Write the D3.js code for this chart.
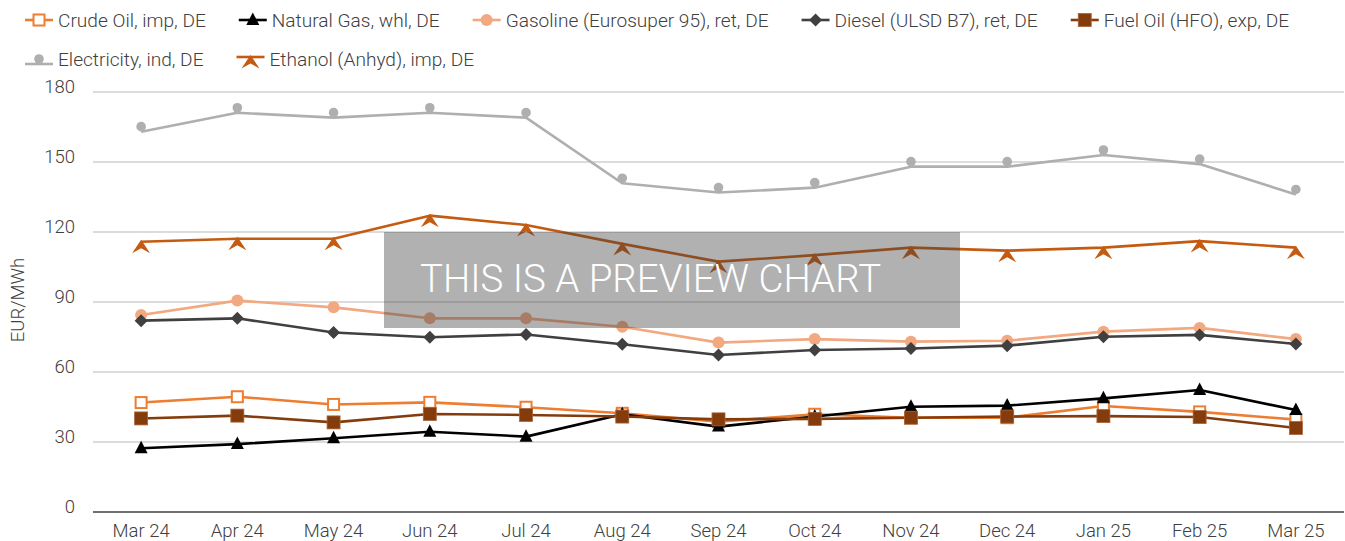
<!DOCTYPE html>
<html><head><meta charset="utf-8">
<script src="https://cdn.jsdelivr.net/npm/d3@7/dist/d3.min.js"></script>
<style>
html,body{margin:0;padding:0;background:#fff;}
text{font-family:Roboto,"Noto Sans",sans-serif;}
</style></head>
<body><svg id="c" width="1345" height="541"></svg>
<script>
const months = ["Mar 24","Apr 24","May 24","Jun 24","Jul 24","Aug 24","Sep 24","Oct 24","Nov 24","Dec 24","Jan 25","Feb 25","Mar 25"];
const yTicks = [0,30,60,90,120,150,180];
const seriesNames = ["Crude Oil, imp, DE","Natural Gas, whl, DE","Gasoline (Eurosuper 95), ret, DE","Diesel (ULSD B7), ret, DE","Fuel Oil (HFO), exp, DE","Electricity, ind, DE","Ethanol (Anhyd), imp, DE"];
const crudeOil   = [46.9,49.4,46.1,47.0,44.9,42.3,38.7,41.9,40.4,40.4,45.4,42.9,39.6];
const naturalGas = [27.3,29.1,31.6,34.4,32.3,41.9,36.6,40.9,45.1,45.6,48.7,52.3,43.7];
const gasoline   = [84.4,90.6,87.7,83.0,83.0,79.4,72.6,74.1,73.0,73.4,77.3,78.9,74.1];
const diesel     = [82.0,83.0,76.9,74.9,76.1,71.9,67.3,69.4,70.1,71.3,75.1,75.9,72.0];
const fuelOil    = [40.1,41.3,38.4,42.0,41.6,40.9,39.7,39.9,40.4,40.9,41.1,40.7,36.0];
const electricity= [163.0,171.1,169.0,171.1,169.0,140.9,136.9,139.0,148.0,148.0,153.0,149.1,136.1];
const ethanol    = [115.8,117.1,117.1,127.0,123.0,114.9,107.3,110.1,113.3,112.0,113.3,116.1,113.3];
const yTitle = "EUR/MWh";
const watermark = "THIS IS A PREVIEW CHART";

const seriesValues = [crudeOil,naturalGas,gasoline,diesel,fuelOil,electricity,ethanol];
const styles = [
  {color:"#ED7D31", marker:"hsquare"},
  {color:"#000000", marker:"triangle"},
  {color:"#F2A880", marker:"circle"},
  {color:"#404040", marker:"diamond"},
  {color:"#843C0C", marker:"square"},
  {color:"#AFAFAF", marker:"dot"},
  {color:"#C55A11", marker:"arrow"}
];
const series = seriesNames.map((n,i)=>({name:n, values:seriesValues[i], ...styles[i]}));

const svg = d3.select("#c");
const plotL=93, plotR=1344, plotT=92, plotB=512;
const x = d3.scalePoint().domain(months).range([plotL,plotR]).padding(0.5);
const y = d3.scaleLinear().domain([0,180]).range([plotB,plotT]);
const txtColor = "#404040";

// gridlines
svg.append("g").selectAll("line").data(yTicks.filter(t=>t>0)).join("line")
  .attr("x1",plotL).attr("x2",plotR).attr("y1",d=>y(d)).attr("y2",d=>y(d))
  .attr("stroke","#D0D0D0").attr("stroke-width",1.5);
// axis line
svg.append("line").attr("x1",plotL).attr("x2",plotR).attr("y1",y(0)).attr("y2",y(0))
  .attr("stroke","#404040").attr("stroke-width",1.5);

// y labels
svg.append("g").selectAll("text").data(yTicks).join("text")
  .attr("x",75).attr("y",d=>y(d)+0.5).attr("text-anchor","end")
  .attr("font-size",18.5).attr("font-weight",300).attr("fill",txtColor).text(d=>d);
// x labels
svg.append("g").selectAll("text").data(months).join("text")
  .attr("x",d=>x(d)).attr("y",537).attr("text-anchor","middle")
  .attr("font-size",18.5).attr("font-weight",300).attr("fill",txtColor).text(d=>d);
// y title
svg.append("text").attr("transform","translate(24,300) rotate(-90)")
  .attr("text-anchor","middle").attr("font-size",18.5).attr("font-weight",300)
  .attr("fill",txtColor).text(yTitle);

function drawMarker(g, type, color){
  if(type==="hsquare"){
    g.append("rect").attr("x",-5.5).attr("y",-5.5).attr("width",11).attr("height",11)
     .attr("fill","#fff").attr("stroke",color).attr("stroke-width",2);
  } else if(type==="square"){
    g.append("rect").attr("x",-6.5).attr("y",-6.5).attr("width",13).attr("height",13)
     .attr("fill",color).attr("stroke","#A8643C").attr("stroke-width",0.8);
  } else if(type==="triangle"){
    g.append("path").attr("d","M0,-7.5L6.5,5L-6.5,5Z").attr("fill",color);
  } else if(type==="circle"){
    g.append("circle").attr("r",6).attr("fill",color);
  } else if(type==="diamond"){
    g.append("path").attr("d","M0,-6.5L6.5,0L0,6.5L-6.5,0Z").attr("fill",color);
  } else if(type==="dot"){
    g.append("circle").attr("cy",-5).attr("r",4.8).attr("fill",color);
  } else if(type==="arrow"){
    g.append("path").attr("d","M0,-2L9,11.5L0,6.5L-9,11.5Z").attr("fill",color);
  }
}

const line = d3.line().x((d,i)=>x(months[i])).y(d=>y(d));
series.forEach(s=>{
  const g = svg.append("g");
  g.append("path").datum(s.values).attr("d",line).attr("fill","none")
   .attr("stroke",s.color).attr("stroke-width",2.6).attr("stroke-linejoin","round");
  s.values.forEach((v,i)=>{
    const mg = g.append("g").attr("transform",`translate(${x(months[i])},${y(v)})`);
    drawMarker(mg, s.marker, s.color);
  });
});

// legend
const legRows = [[0,1,2,3,4],[5,6]];
const rowY = [20,59];
legRows.forEach((row,ri)=>{
  let cx = 25;
  row.forEach(si=>{
    const s = series[si];
    const g = svg.append("g").attr("transform",`translate(${cx},${rowY[ri]})`);
    let ly = 0;
    if(s.marker==="dot") ly = 5;
    if(s.marker==="arrow") ly = -2;
    g.append("line").attr("x1",0).attr("x2",28).attr("y1",ly).attr("y2",ly)
      .attr("stroke",s.color).attr("stroke-width",2.6);
    const mg = g.append("g").attr("transform",`translate(14,${ly})`);
    drawMarker(mg, s.marker, s.color);
    const t = g.append("text").attr("x",33).attr("y",6.5).attr("font-size",19.1)
      .attr("font-weight",300).attr("fill",txtColor).text(s.name);
    const w = t.node().getComputedTextLength();
    cx += 33 + w + 33;
  });
});

// preview overlay
svg.append("rect").attr("x",384).attr("y",232).attr("width",576).attr("height",96)
  .attr("fill","rgba(60,60,60,0.4)");
svg.append("text").attr("x",420).attr("y",292).attr("font-size",38.5).attr("font-weight",300)
  .attr("fill","#ffffff").text(watermark);
</script></body></html>
